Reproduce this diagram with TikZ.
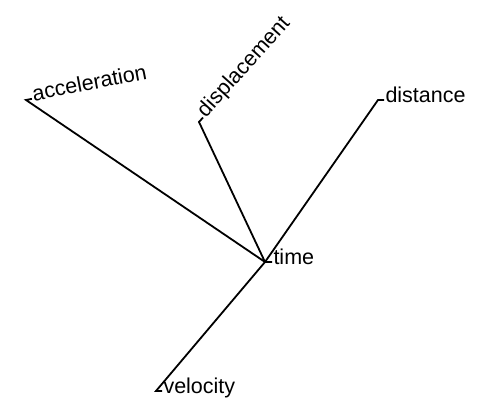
\documentclass[tikz,border=0pt]{standalone}
\usepackage{fontspec}
\setmainfont{Liberation Sans}
\usetikzlibrary{calc}
\begin{document}
\begin{tikzpicture}[x=1pt,y=1pt]
  \tikzset{
    branch/.style={
      draw=black,
      line width=1.8pt,
      line join=miter
    },
    leaf/.style={
      anchor=mid west,
      inner xsep=1.5pt,
      inner ysep=0pt,
      outer sep=0pt,
      font=\fontsize{21.5}{21.5}\selectfont
    }
  }
  \useasboundingbox (0,0) rectangle (478,403);

  \coordinate (T) at (265,141);
  \coordinate (Acc) at (26,303);
  \coordinate (Dis) at (199,281);
  \coordinate (Dst) at (378,303);
  \coordinate (Vel) at (156,12);

  \node[leaf] (TL) at ($(T)+(7,0)$) {time};
  \node[leaf, rotate=11] (AccL) at ($(Acc)+(11:6)$) {acceleration};
  \node[leaf, rotate=48] (DisL) at ($(Dis)+(48:6)$) {displacement};
  \node[leaf] (DstL) at ($(Dst)+(6,0)$) {distance};
  \node[leaf] (VelL) at ($(Vel)+(6,0)$) {velocity};

  \draw[branch] (TL.mid west) -- (T) -- (Acc) -- (AccL.mid west);
  \draw[branch] (T) -- (Dis) -- (DisL.mid west);
  \draw[branch] (T) -- (Dst) -- (DstL.mid west);
  \draw[branch] (T) -- (Vel) -- (VelL.mid west);
\end{tikzpicture}
\end{document}
